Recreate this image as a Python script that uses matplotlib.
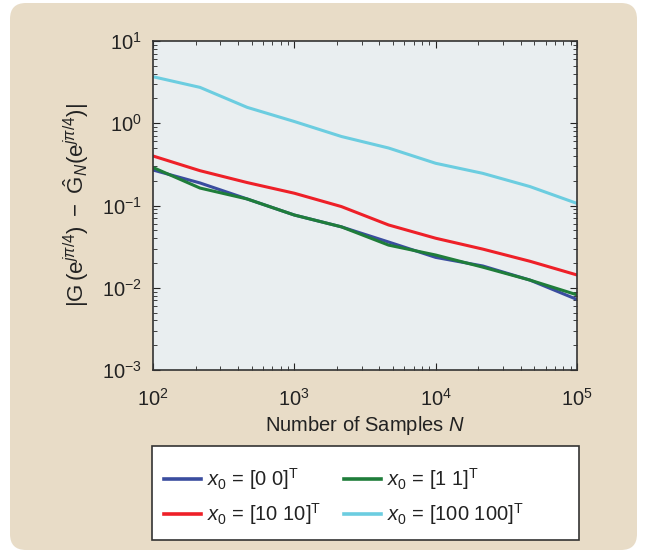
import numpy as np
import matplotlib
matplotlib.use('Agg')
import matplotlib.pyplot as plt
from matplotlib.patches import FancyBboxPatch, Rectangle
from matplotlib.transforms import IdentityTransform

plt.rcParams['font.family'] = ['Liberation Sans', 'DejaVu Sans']
plt.rcParams['mathtext.fontset'] = 'custom'
plt.rcParams['mathtext.rm'] = 'Liberation Sans'
plt.rcParams['mathtext.it'] = 'Liberation Sans:italic'
plt.rcParams['mathtext.bf'] = 'Liberation Sans:bold'

# samples N (log spaced 10^2 .. 10^5)
N = [100, 215, 464, 1000, 2154, 4642, 10000, 21544, 46416, 100000]

err_00 = [0.27, 0.188, 0.12, 0.0766, 0.055, 0.036, 0.0234, 0.0184, 0.0124, 0.0072]
err_11 = [0.29, 0.163, 0.12, 0.0766, 0.055, 0.033, 0.025, 0.0178, 0.0124, 0.0082]
err_1010 = [0.40, 0.265, 0.19, 0.141, 0.097, 0.058, 0.040, 0.0295, 0.021, 0.0143]
err_100 = [3.68, 2.73, 1.56, 1.05, 0.69, 0.50, 0.326, 0.246, 0.17, 0.106]

labels = [r'$x_0$ = [0 0]$^\mathrm{T}$', r'$x_0$ = [1 1]$^\mathrm{T}$',
          r'$x_0$ = [10 10]$^\mathrm{T}$', r'$x_0$ = [100 100]$^\mathrm{T}$']
colors = ['#3a4d9f', '#1f7d3a', '#ee2028', '#6ccde0']
txt = '#222222'

fig = plt.figure(figsize=(6.47, 5.59), dpi=100)

# beige rounded panel (pixel coords)
bg = FancyBboxPatch((10, 9), 627, 547, boxstyle='round,pad=0,rounding_size=16',
                    transform=IdentityTransform(), facecolor='#e8dcc7',
                    edgecolor='none', zorder=-10)
fig.patches.append(bg)

ax = fig.add_axes([153/647, 1-370/559, 424/647, 329/559])
ax.set_facecolor('#e9eef0')

ax.plot(N, err_00, color=colors[0], lw=2.2)
ax.plot(N, err_11, color=colors[1], lw=2.2)
ax.plot(N, err_1010, color=colors[2], lw=2.2)
ax.plot(N, err_100, color=colors[3], lw=2.2)

ax.set_xscale('log')
ax.set_yscale('log')
ax.set_xlim(1e2, 1e5)
ax.set_ylim(1e-3, 1e1)
ax.tick_params(which='both', direction='in', top=True, right=True, labelsize=14.5,
               colors=txt)
ax.tick_params(which='major', length=5)
ax.tick_params(which='minor', length=3)
ax.tick_params(axis='x', pad=13)
ax.tick_params(axis='y', pad=8)
for s in ax.spines.values():
    s.set_color('#333333')
    s.set_linewidth(1.2)

ax.set_xlabel(r'Number of Samples $N$', fontsize=14.5, color=txt, labelpad=3)
ax.set_ylabel(r'$|\mathrm{G}\,(\mathrm{e}^{j\pi/4})\ -\ \hat{\mathrm{G}}_N(\mathrm{e}^{j\pi/4})|$',
              fontsize=16, color=txt, labelpad=8)

# legend box
frame = Rectangle((152/647, 1-540/559), 427/647, 94/559, transform=fig.transFigure,
                  facecolor='white', edgecolor='#333333', lw=1.2)
fig.patches.append(frame)

handles = [plt.Line2D([], [], color=c, lw=2.6) for c in colors]
order = [0, 2, 1, 3]
leg = fig.legend([handles[i] for i in order], [labels[i] for i in order],
                 ncol=2, loc='upper left',
                 bbox_to_anchor=(158/647, 1-460/559),
                 fontsize=14.5, frameon=False,
                 handlelength=1.85, handletextpad=0.3, labelspacing=0.45,
                 columnspacing=1.1, borderaxespad=0, borderpad=0.3)
for t in leg.get_texts():
    t.set_color(txt)

fig.savefig('out.png', dpi=100)
